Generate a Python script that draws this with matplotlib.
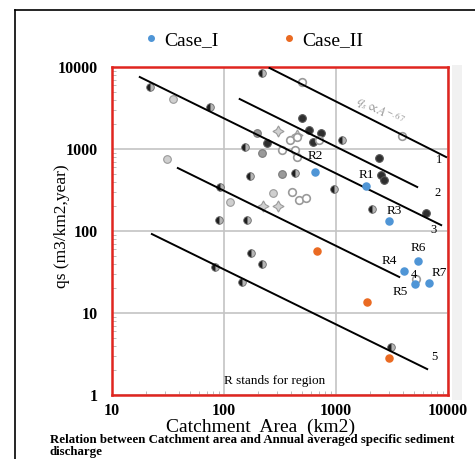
import numpy as np
import matplotlib
matplotlib.use("Agg")
import matplotlib.pyplot as plt
from matplotlib.lines import Line2D
from matplotlib.patches import Rectangle

plt.rcParams['font.family'] = ['Liberation Serif', 'DejaVu Serif']
plt.rcParams['mathtext.fontset'] = 'stix'

# ---------------- data ----------------
# Case_I (blue) regions
case1_x = [656, 1845, 2965, 5380, 4035, 5060, 6760]
case1_y = [525, 354, 132, 43, 32.5, 22.6, 23.2]
case1_lbl = ["R2", "R1", "R3", "R6", "R4", "R5", "R7"]
case1_lbl_x = [656, 1870, 3310, 5420, 2990, 3740, 8320]
case1_lbl_y = [822, 482, 175, 62, 43, 18, 30.8]

# Case_II (orange)
case2_x = [671, 1885, 2965]
case2_y = [57, 13.6, 2.83]

# background (published) data points, shade code
bg_x = [21.8, 34.9, 74.6, 217, 199, 301, 240, 153, 327, 385, 444, 217, 30.9,
        169, 327, 427, 91.6, 112, 272, 401, 221, 301, 89.7, 159, 492, 501,
        579, 741, 453, 617, 711, 1140, 3900, 2430, 2535, 2700, 968, 472, 545,
        2110, 6380, 427, 453, 173, 217, 82.6, 144, 5200, 3110]
bg_y = [5700, 4070, 3250, 8450, 1567, 1660, 1183, 1057, 972, 1288, 1483, 893,
        755, 469, 496, 509, 344, 226, 291, 299, 202, 202, 136, 136, 6560, 2390,
        1705, 1567, 1400, 1216, 1288, 1288, 1442, 776, 482, 419, 325, 239, 253,
        185, 166, 972, 798, 54, 39.6, 36.4, 23.9, 26, 3.85]
bg_shade = ['h', 'l', 'h', 'h', 'm', 's', 'd', 'h', 'o', 'o', 's', 'm', 'l',
            'h', 'm', 'h', 'h', 'l', 'l', 'o', 's', 's', 'h', 'h', 'o', 'd',
            'd', 'd', 'o', 'd', 'o', 'h', 'o', 'd', 'd', 'd', 'h', 'o', 'o',
            'h', 'd', 'o', 'o', 'h', 'h', 'h', 'h', 'o', 'h']

# envelope lines (start, end)
lines_x = [(255, 9620), (138, 5310), (17.7, 8690), (38.7, 3670), (22.7, 6520)]
lines_y = [(9730, 798), (4070, 344), (7550, 118), (586, 27.5), (91.8, 2.07)]
line_lbl = ["1", "2", "3", "4", "5"]
line_lbl_x = [8300, 8000, 7360, 4990, 7520]
line_lbl_y = [735, 290, 103, 29, 2.9]

x_ticks = [10, 100, 1000, 10000]
y_ticks = [1, 10, 100, 1000, 10000]

caption = ("Relation between Catchment area and Annual averaged specific sediment\n"
           "discharge")

# ---------------- figure ----------------
fig = plt.figure(figsize=(4.75, 4.59), dpi=100)

# outer black frame (top and left)
fig.add_artist(Line2D([15/475, 15/475], [0, 1 - 10/459], color='black', lw=1.2,
                      transform=fig.transFigure))
fig.add_artist(Line2D([15/475, 1], [1 - 10/459, 1 - 10/459], color='black', lw=1.2,
                      transform=fig.transFigure))
# faint scan shading right of the plot
fig.add_artist(Rectangle((452/475, 1 - 400/459), 10/475, 335/459,
                         transform=fig.transFigure, color='#f1f1f1', lw=0, zorder=0))

ax = fig.add_axes([112/475, 1 - 395/459, 336/475, 328/459])
ax.set_xscale('log')
ax.set_yscale('log')
ax.set_xlim(10, 10000)
ax.set_ylim(1, 10000)

ax.grid(True, which='major', color='#c4c4c4', lw=1.2)
ax.set_axisbelow(True)

for s in ax.spines.values():
    s.set_color('#e0251f')
    s.set_linewidth(1.8)

styles = {
    'd': dict(marker='o', mfc='#2e2e2e', mec='#555555', ms=5.5, mew=0.8),
    'h': dict(marker='o', mfc='#1e1e1e', mfcalt='#b5b5b5', fillstyle='left',
              mec='#6a6a6a', ms=5.5, mew=0.6),
    'm': dict(marker='o', mfc='#9a9a9a', mec='#7a7a7a', ms=5.5, mew=0.8),
    'l': dict(marker='o', mfc='#cfcfcf', mec='#9a9a9a', ms=5.5, mew=0.8),
    'o': dict(marker='o', mfc='white', mec='#9a9a9a', ms=5.5, mew=1.2),
    's': dict(marker=(4, 1, 0), mfc='#d0d0d0', mec='#9a9a9a', ms=8, mew=0.8),
}
for x, y, s in zip(bg_x, bg_y, bg_shade):
    ax.plot([x], [y], linestyle='none', zorder=3, **styles[s])

for (x0, x1), (y0, y1) in zip(lines_x, lines_y):
    ax.plot([x0, x1], [y0, y1], color='black', lw=1.4, zorder=4)
for t, x, y in zip(line_lbl, line_lbl_x, line_lbl_y):
    ax.text(x, y, t, fontsize=9, ha='center', va='center', zorder=5)

ax.scatter(case1_x, case1_y, s=26, color='#4f95d6', zorder=6, label='Case_I')
ax.scatter(case2_x, case2_y, s=26, color='#ea6a22', zorder=6, label='Case_II')
for t, x, y in zip(case1_lbl, case1_lbl_x, case1_lbl_y):
    ax.text(x, y, t, fontsize=9.5, ha='center', va='center', zorder=7)

ax.text(2480, 2900, r'$q_s \propto A^{-.67}$', fontsize=9, color='#9a9a9a',
        rotation=-27, ha='center', va='center', zorder=5)
ax.text(0.485, 0.043, 'R stands for region', transform=ax.transAxes,
        fontsize=9.5, ha='center', va='center')

ax.set_xticks(x_ticks)
ax.set_xticklabels([str(v) for v in x_ticks])
ax.set_yticks(y_ticks)
ax.set_yticklabels([str(v) for v in y_ticks])
ax.tick_params(axis='both', which='major', labelsize=11.5, length=0)
ax.tick_params(axis='y', which='major', pad=10)
ax.tick_params(axis='x', which='major', pad=6)
ax.tick_params(axis='both', which='minor', direction='in', length=3,
               color='#b0b0b0')
ax.tick_params(axis='x', which='minor', labelbottom=False)
ax.tick_params(axis='y', which='minor', labelleft=False)
for lab in ax.get_xticklabels() + ax.get_yticklabels():
    lab.set_fontweight('semibold')

ax.set_xlabel('Catchment  Area  (km2)', fontsize=14)
ax.xaxis.set_label_coords((261 - 112) / 336, -(427 - 395) / 328)
ax.xaxis.label.set_va('center')
ax.set_ylabel('qs (m3/km2,year)', fontsize=12.5)
ax.yaxis.set_label_coords((62 - 112) / 336, (395 - 226) / 328)
ax.yaxis.label.set_va('center')

leg = fig.legend(handles=[
    Line2D([], [], marker='o', ls='none', color='#4f95d6', ms=4, label='Case_I'),
    Line2D([], [], marker='o', ls='none', color='#ea6a22', ms=4, label='Case_II')],
    loc='center', bbox_to_anchor=(252/475, 1 - 40/459), ncol=2, frameon=False,
    fontsize=14, handletextpad=0.2, columnspacing=3.1, handlelength=1.0)

fig.text(50/475, 1 - 434/459, caption, fontsize=9.3, fontweight='bold',
         ha='left', va='top', linespacing=0.95)

fig.savefig('out.png', dpi=100)
